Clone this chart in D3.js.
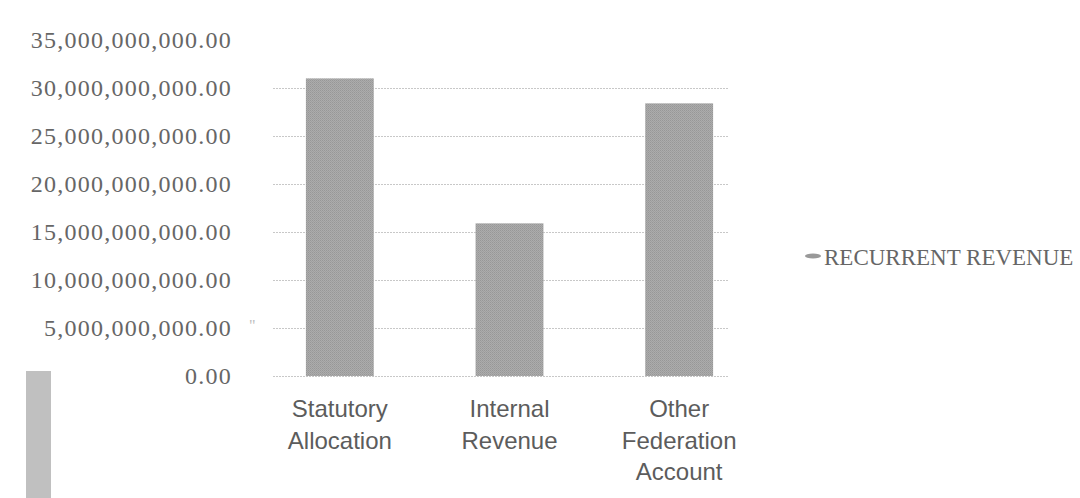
<!DOCTYPE html>
<html>
<head>
<meta charset="utf-8">
<script src="https://d3js.org/d3.v7.min.js"></script>
<style>
  body { margin: 0; background: #fff; }
  .ylab { font-family: "Liberation Serif", "Times New Roman", serif; font-size: 24px; fill: #666; letter-spacing: 1.25px; }
  .xlab { font-family: "Liberation Sans", Arial, sans-serif; font-size: 24px; fill: #5c5c5c; }
  .legend { font-family: "Liberation Serif", "Times New Roman", serif; font-size: 23px; fill: #666; }
  .grid { stroke: #c8c8c8; stroke-width: 1; stroke-dasharray: 2,1; }
</style>
</head>
<body>
<div id="chart"></div>
<script>
var width = 1080; var height = 498;

var categories = [["Statutory", "Allocation"], ["Internal", "Revenue"], ["Other", "Federation", "Account"]];
var values = [31.0e9, 15.9e9, 28.4e9];
var yTicks = [0, 5e9, 10e9, 15e9, 20e9, 25e9, 30e9, 35e9];
var seriesName = "RECURRENT REVENUE";

var svg = d3.select("#chart").append("svg")
	.attr("width", width)
	.attr("height", height);

// halftone-ish fill for the bars
var pat = svg.append("defs").append("pattern")
	.attr("id", "dots").attr("width", 2).attr("height", 2)
	.attr("patternUnits", "userSpaceOnUse");
pat.append("rect").attr("width", 2).attr("height", 2).attr("fill", "#acacac");
pat.append("rect").attr("width", 1).attr("height", 1).attr("fill", "#979797");
pat.append("rect").attr("x", 1).attr("y", 1).attr("width", 1).attr("height", 1).attr("fill", "#9f9f9f");

var x = d3.scaleBand()
	.domain(d3.range(categories.length))
	.range([255, 764])
	.paddingInner(0.6)
	.paddingOuter(0.3);

var y = d3.scaleLinear()
	.domain([0, 35e9])
	.range([376, 40]);

var fmt = d3.format(",.2f");
var gridLeft = 273, gridRight = 729;

// gridlines (none drawn at the top tick)
svg.selectAll(".grid")
	.data(yTicks.filter(function(d) { return d < 35e9; }))
	.enter().append("line")
	.attr("class", "grid")
	.attr("x1", gridLeft).attr("x2", gridRight)
	.attr("y1", function(d) { return Math.round(y(d)) + 0.5; })
	.attr("y2", function(d) { return Math.round(y(d)) + 0.5; });

// y labels
svg.selectAll(".ylab")
	.data(yTicks)
	.enter().append("text")
	.attr("class", "ylab")
	.attr("x", 232)
	.attr("y", function(d) { return y(d); })
	.attr("dy", "0.34em")
	.attr("text-anchor", "end")
	.text(function(d) { return fmt(d); });

// bars
svg.selectAll(".bar")
	.data(values)
	.enter().append("rect")
	.attr("class", "bar")
	.attr("x", function(d, i) { return x(i); })
	.attr("width", x.bandwidth())
	.attr("y", function(d) { return y(d); })
	.attr("height", function(d) { return y(0) - y(d); })
	.attr("fill", "url(#dots)");

// category labels
var xl = svg.selectAll(".xlab")
	.data(categories)
	.enter().append("text")
	.attr("class", "xlab")
	.attr("text-anchor", "middle")
	.attr("x", function(d, i) { return x(i) + x.bandwidth() / 2; })
	.attr("y", 417);
xl.selectAll("tspan")
	.data(function(d) { return d; })
	.enter().append("tspan")
	.attr("x", function() { return d3.select(this.parentNode).attr("x"); })
	.attr("dy", function(d, i) { return i ? 31.5 : 0; })
	.text(function(d) { return d; });

// legend
svg.append("ellipse")
	.attr("cx", 813).attr("cy", 256)
	.attr("rx", 8).attr("ry", 2.5)
	.attr("fill", "#999");
svg.append("text")
	.attr("class", "legend")
	.attr("x", 824).attr("y", 265)
	.text(seriesName);

// scan leftovers: stray mark and grey strip at bottom left
svg.append("text")
	.attr("x", 249).attr("y", 331)
	.attr("font-family", "Liberation Serif, serif")
	.attr("font-size", 16)
	.attr("fill", "#bdbdbd")
	.text("\"");
svg.append("rect")
	.attr("x", 26).attr("y", 371)
	.attr("width", 25).attr("height", height - 371)
	.attr("fill", "#c0c0c0");
</script>
</body>
</html>
